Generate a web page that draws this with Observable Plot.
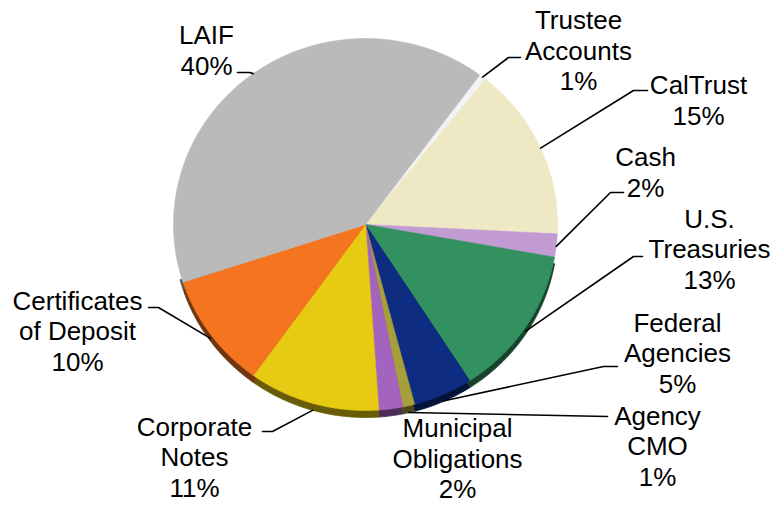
<!DOCTYPE html>
<html>
<head>
<meta charset="utf-8">
<script src="https://cdn.jsdelivr.net/npm/d3@7"></script>
<script src="https://cdn.jsdelivr.net/npm/@observablehq/plot@0.6"></script>
<style>
  html, body { margin: 0; padding: 0; background: #ffffff; }
  #chart { width: 775px; height: 505px; }
</style>
</head>
<body>
<div id="chart"></div>
<script>
// ---- data (clockwise from the Trustee Accounts slice) ----
const categories = ["Trustee\nAccounts", "CalTrust", "Cash", "U.S.\nTreasuries", "Federal\nAgencies",
  "Agency\nCMO", "Municipal\nObligations", "Corporate\nNotes", "Certificates\nof Deposit", "LAIF"];
const shares = [0.6, 15, 2, 13, 5, 1, 2, 11, 10, 40];
const pctLabels = ["1%", "15%", "2%", "13%", "5%", "1%", "2%", "11%", "10%", "40%"];
const sliceColors = ["#f3f3f3", "#efe8c4", "#c29bd2", "#33915f", "#0d2c82",
  "#a79f3a", "#a563c0", "#e7ca12", "#f47420", "#bababa"];

// ---- layout (pixels) ----
const W = 775, H = 505;
const cx = 365, cy = 224, rx = 192, ry = 186, depth = 7;
const startDeg = 36.5;
// label block centres and leader elbows (pixels)
const labelPos = [[578, 49.5], [698, 99.5], [645, 171], [709, 248], [677, 352],
  [657, 445], [457, 457.5], [194, 456], [77, 330], [206, 49]];
const leaderBends = [
  [[508, 57], [520, 57]],
  [[633, 90], [647, 90]],
  [[610, 192], [623, 192]],
  [[633, 256], [642, 256]],
  [[603, 366], [617, 366]],
  [[607, 416]],
  null,
  [[272, 431], [262, 431]],
  [[158, 307], [148, 307]],
  [[249, 72], [237, 72]]
];

const ux = px => (px - cx) / rx;
const uy = py => (cy - py) / ry;

const pie = d3.pie().sort(null).value(d => d.value)
  .startAngle(startDeg * Math.PI / 180)
  .endAngle(startDeg * Math.PI / 180 + 2 * Math.PI);

const data = categories.map((c, i) => ({name: c, value: shares[i], pct: pctLabels[i], color: sliceColors[i], i}));
const arcs = pie(data);

// wedge polygons in unit coordinates
const wedgePts = [];
arcs.forEach(a => {
  const id = a.data.name;
  wedgePts.push({id, x: 0, y: 0, color: a.data.color});
  const n = Math.max(2, Math.ceil((a.endAngle - a.startAngle) / (0.4 * Math.PI / 180)));
  for (let k = 0; k <= n; k++) {
    const t = a.startAngle + (a.endAngle - a.startAngle) * k / n;
    wedgePts.push({id, x: Math.sin(t), y: Math.cos(t), color: a.data.color});
  }
  wedgePts.push({id, x: 0, y: 0, color: a.data.color});
});
// side (3-D rim) only under the front half of the pie
const sidePts = [];
arcs.forEach(a => {
  const id = a.data.name;
  const lo = Math.max(a.startAngle, 100 * Math.PI / 180);
  const hi = Math.min(a.endAngle, 255 * Math.PI / 180);
  if (hi <= lo) return;
  const col = d3.color(a.data.color).darker(2.2).formatHex();
  sidePts.push({id, x: 0, y: 0, color: col});
  const n = Math.max(2, Math.ceil((hi - lo) / (0.4 * Math.PI / 180)));
  for (let k = 0; k <= n; k++) {
    const t = lo + (hi - lo) * k / n;
    sidePts.push({id, x: Math.sin(t), y: Math.cos(t), color: col});
  }
  sidePts.push({id, x: 0, y: 0, color: col});
});

// leader lines
const leaderPts = [];
arcs.forEach((a, i) => {
  const bends = leaderBends[i];
  if (!bends) return;
  const m = (a.startAngle + a.endAngle) / 2;
  const off = depth / ry * Math.max(0, -Math.cos(m));
  const id = a.data.name;
  leaderPts.push({id, x: Math.sin(m), y: Math.cos(m) - off});
  bends.forEach(([px, py]) => leaderPts.push({id, x: ux(px), y: uy(py)}));
});

const labels = arcs.map((a, i) => ({
  x: ux(labelPos[i][0]), y: uy(labelPos[i][1]),
  text: a.data.name + "\n" + a.data.pct
}));

const chart = Plot.plot({
  width: W, height: H,
  margin: 0,
  x: {domain: [-1, 1], range: [cx - rx, cx + rx], axis: null},
  y: {domain: [-1, 1], range: [cy + ry, cy - ry], axis: null},
  color: {type: "identity"},
  marks: [
    Plot.line(sidePts, {x: "x", y: "y", z: "id", fill: "color", stroke: "color", strokeWidth: 0.8, dy: depth, curve: "linear"}),
    Plot.line(wedgePts, {x: "x", y: "y", z: "id", fill: "color", stroke: "color", strokeWidth: 0.6, curve: "linear"}),
    Plot.line(leaderPts, {x: "x", y: "y", z: "id", stroke: "#000", strokeWidth: 1.6, curve: "linear"}),
    Plot.text(labels, {x: "x", y: "y", text: "text", fontSize: 26, lineHeight: 1.18,
      textAnchor: "middle", lineAnchor: "middle", fill: "#000",
      fontFamily: "'Liberation Sans', Arial, Helvetica, sans-serif"})
  ]
});
document.getElementById("chart").appendChild(chart);
</script>
</body>
</html>
